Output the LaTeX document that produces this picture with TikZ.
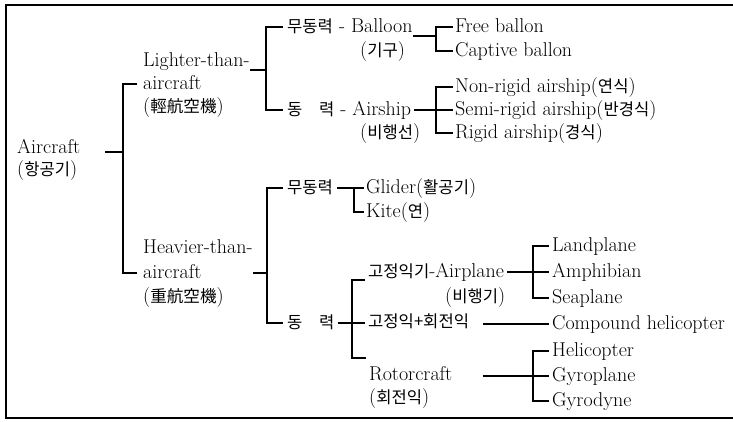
\documentclass[tikz,border=0pt]{standalone}
\usepackage{fontspec}
\newfontfamily\kr[Scale=0.83]{Noto Sans CJK KR}
\usepackage{tikz}

\begin{document}
\begin{tikzpicture}[x=1pt,y=-1pt]
	\tikzset{
		txt/.style={anchor=west,inner sep=0pt,text height=14pt,text depth=3pt,font=\fontsize{20}{24}\selectfont},
		lin/.style={line width=1.2pt},
	}
	\useasboundingbox (0,0) rectangle (733,422);

	% Rahmen
	\draw[line width=1.6pt] (733,5) -- (6,5) -- (6,418) -- (733,418);

	% Wurzel
	\node[txt] (ac) at (17,148) {Aircraft};
	\node[txt] (ack) at (17,170) {({\kr 항공기})};

	% Leichter als Luft
	\node[txt] (l1) at (143,61) {Lighter-than-};
	\node[txt] (l2) at (143,84) {aircraft};
	\node[txt] (l3) at (143,107) {({\kr 輕航空機})};
	\node[txt] (b0) at (287,27) {{\kr 무동력} - Balloon};
	\node[txt] (b1) at (360,51) {({\kr 기구})};
	\node[txt] (a0) at (287,110) {{\kr 동\hspace{1em}력} - Airship};
	\node[txt] (a1) at (360,133) {({\kr 비행선})};
	\foreach \n/\y/\t in {fb/27/Free ballon,cb/51/Captive ballon,nr/87/Non-rigid airship({\kr 연식}),sr/110/Semi-rigid airship({\kr 반경식}),rg/133/Rigid airship({\kr 경식})}
		\node[txt] (\n) at (455,\y) {\t};

	% Schwerer als Luft
	\node[txt] (h1) at (143,248) {Heavier-than-};
	\node[txt] (h2) at (143,273) {aircraft};
	\node[txt] (h3) at (143,297) {({\kr 重航空機})};
	\node[txt] (g0) at (287,188) {\kr 무동력};
	\node[txt] (p0) at (287,323) {\kr 동\hspace{1em}력};
	\node[txt] (gl) at (366,188) {Glider({\kr 활공기})};
	\node[txt] (kt) at (366,212) {Kite({\kr 연})};
	\node[txt] (ap) at (368,272) {{\kr 고정익기}-Airplane};
	\node[txt] (ap1) at (445,297) {({\kr 비행기})};
	\node[txt] (cp) at (368,322) {\kr 고정익+회전익};
	\node[txt] (rc) at (369,375) {Rotorcraft};
	\node[txt] (rc1) at (369,398) {({\kr 회전익})};
	\foreach \n/\y/\t in {lp/246/Landplane,am/272/Amphibian,sp/298/Seaplane,ch/324/Compound helicopter,hc/351/Helicopter,gy/376/Gyroplane,gd/401/Gyrodyne}
		\node[txt] (\n) at (552,\y) {\t};

	% Verbindungen
	\coordinate (s0) at (123,152);
	\draw[lin] ([xshift=25pt]ac.east |- s0) -- (s0);
	\draw[lin,shorten <=6pt,shorten >=6pt] (l2.west) -| (s0) |- (h2.west);

	\coordinate (s1) at (266,70);
	\draw[lin] (s1) -- (s1 -| l1.east);
	\draw[lin,shorten <=4pt,shorten >=4pt] (b0.west) -| (s1) |- (a0.west);
	\coordinate (s2) at (436,36);
	\draw[lin] (s2) -- (s2 -| b0.east);
	\draw[lin,shorten <=2pt,shorten >=2pt] (fb.west) -| (s2) |- (cb.west);
	\coordinate (s3) at (436,110);
	\draw[lin,shorten >=3pt] (s3) -- (a0.east);
	\draw[lin,shorten <=2pt,shorten >=2pt] (nr.west) -| (s3) |- (rg.west);
	\draw[lin,shorten >=2pt] (s3) -- (sr.west);

	\coordinate (s4) at (267,273);
	\draw[lin] (s4) -- (s4 -| h1.east);
	\draw[lin,shorten <=4pt,shorten >=4pt] (g0.west) -| (s4) |- (p0.west);
	\coordinate (s5) at (354,188);
	\draw[lin,shorten <=4pt,shorten >=2pt] (g0.east) -- (gl.west);
	\draw[lin,shorten >=2pt] (s5) |- (kt.west);
	\coordinate (s6) at (352,323);
	\draw[lin,shorten <=3pt] (p0.east) -- (s6);
	\draw[lin,shorten <=3pt,shorten >=3pt] ([yshift=-8pt]ap.west) -| (s6) |- ([yshift=17pt]rc.west);
	\draw[lin,shorten >=3pt] (s6) -- (s6 -| cp.west);
	\coordinate (s7) at (533,272);
	\draw[lin,shorten <=3pt,shorten >=3pt] (ap.east) -- (am.west);
	\draw[lin,shorten <=3pt,shorten >=3pt] (lp.west) -| (s7) |- (sp.west);
	\draw[lin,shorten <=14pt,shorten >=3pt] (cp.east |- ch.west) -- (ch.west);
	\coordinate (s8) at (533,376);
	\draw[lin,shorten <=30pt,shorten >=3pt] (rc.east |- s8) -- (gy.west);
	\draw[lin,shorten <=3pt,shorten >=3pt] (hc.west) -| (s8) |- (gd.west);

\end{tikzpicture}
\end{document}
